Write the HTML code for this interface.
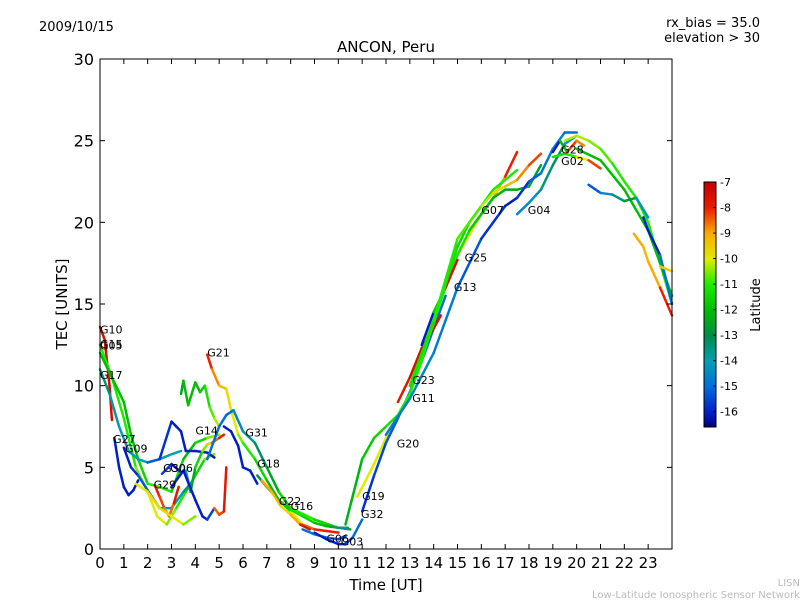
<!DOCTYPE html>
<html><head><meta charset="utf-8"><style>
body{margin:0;background:#fff;}
svg{font-family:"DejaVu Sans","Liberation Sans",sans-serif;}
</style></head><body>
<svg id="chart" width="800" height="600" xmlns="http://www.w3.org/2000/svg">
<rect width="800" height="600" fill="#fff"/>
<text x="39" y="31" font-size="13">2009/10/15</text>
<text x="760" y="27" font-size="13" text-anchor="end">rx_bias = 35.0</text>
<text x="760" y="42" font-size="13" text-anchor="end">elevation &gt; 30</text>
<text x="386" y="52" font-size="15" text-anchor="middle">ANCON, Peru</text>
<text x="386" y="590" font-size="15" text-anchor="middle">Time [UT]</text>
<text x="67" y="304" font-size="15" text-anchor="middle" transform="rotate(-90 67 304)">TEC [UNITS]</text>
<text x="800" y="586" font-size="10" fill="#bbb" text-anchor="end">LISN</text>
<text x="800" y="598" font-size="10" fill="#bbb" text-anchor="end">Low-Latitude Ionospheric Sensor Network</text>
<g id="plot"></g>
<g id="axes"></g>
<g id="cbar"></g>
</svg>
<script>
const trackNames = ["G10","G15","G05","G17","G27","G09","G29","G30","G06","G14","G21","G31","G18","G22","G16","G06b","G03","G19","G32","G20","G11","G23","G25","G13","G07","G04","G28","G02","D1","D2","D3","D4","D5","D6","M1","M2","M3"];
const trackTimes = [
 [0,0.2,0.4,0.5],
 [0,0.5,1,1.5,2,2.4,2.8,3.2,3.6,4,4.4,4.8],
 [0,0.5,1,1.3,1.6,2,2.5,3,3.5,4,4.5,5],
 [0,0.4,0.8,1.2,1.6,2,2.5,3,3.4],
 [0.6,0.8,1,1.2,1.4,1.6],
 [1,1.3,1.6,2,2.5,3,3.5,3.8],
 [2.3,2.5,2.7,2.9,3.1,3.3],
 [2,2.5,3,3.2,3.4,3.6,4,4.5,4.8],
 [2.6,3,3.4,3.6,3.8,4,4.3,4.5,4.7,5,5.2],
 [3.4,3.5,3.7,4,4.2,4.4,4.6,4.8,5],
 [4.5,4.7,5,5.3,5.5,5.8,6,6.5,7,7.5,8,8.5,9,9.5,10],
 [4.5,5,5.3,5.6,6,6.5,7,7.5,8,9,10,10.5],
 [5.2,5.5,5.8,6,6.3,6.6],
 [6.6,7,7.5,8,8.5,9,9.5,10,10.4],
 [6.8,7.2,7.6,8,8.4,8.8],
 [8.5,9,9.5,10,10.3],
 [9,9.5,10,10.3,10.6,11],
 [10.8,11.5,12,13,13.5,14,14.5,15,16,16.5,17,17.5],
 [11,11.5,12,12.5,13,13.5,14,14.5],
 [10.3,11,11.5,12,12.5,13,13.5,14,15,15.5,16,16.5,17,17.5,18,18.5],
 [12,13,14,15,16,17,17.5,18,18.5,19,19.5,20],
 [12.5,13,13.5,14,14.3],
 [13.5,14,14.5,15],
 [13,13.5,14,14.5,15,15.5,16,16.5,17,17.5],
 [13,14,14.5,15,16,16.5,17,17.5,18,18.5],
 [17.5,18,18.5,19,19.5,20],
 [19,19.3,19.6,20,20.3],
 [19,19.5,20,20.5,21],
 [19.5,20,20.5,21,21.5,22,22.5,23,23.5,24],
 [20,21,22,23,23.5,24],
 [20.5,21,21.5,22,22.5,23],
 [22.8,23,23.5,24],
 [22.4,22.8,23,23.5,24],
 [23.5,24],
 [3,3.5,4,4.3,4.5,4.8],
 [4.8,5,5.2,5.3],
 [1.5,2,2.5,3,3.5,4]
];
const trackTec = [
 [13.6,12.8,10,7.9],
 [12.5,10.5,8,5,3.5,2,1.5,2.5,3.5,4.5,5.5,5.8],
 [12,10.5,9,7,5.5,4,3.8,3.5,5.5,6.5,6.8,7],
 [11,9.5,7.5,6,5.5,5.3,5.5,5.8,6.0],
 [6.8,5,3.8,3.3,3.6,4.2],
 [6.2,5,4.5,3.6,2.5,2.5,3.5,4],
 [3.9,3.2,2.5,2,2.8,3.8],
 [5.3,5.5,7.8,7.5,7.2,6.0,6.0,5.9,5.6],
 [4.6,5.2,4.7,4.8,3.5,5,6,6.4,6.5,6.8,7],
 [9.5,10.3,8.8,10.2,9.6,10,8.7,8,7.5],
 [11.9,11.0,10.0,9.8,8.5,7.0,6.5,5.5,4.2,3.0,2.3,1.5,1.2,1.1,1.0],
 [5.5,7.5,8.2,8.5,7.2,6.5,5,3.5,2.5,1.8,1.3,1.2],
 [7.5,7.2,6.3,5.0,4.8,4.0],
 [4.5,3.8,3,2.4,2,1.6,1.4,1.3,1.3],
 [4.2,3.5,2.6,2.1,1.5,1.2],
 [1.2,0.9,0.7,0.6,0.8],
 [1.0,0.6,0.3,0.3,0.7,1.8],
 [3.2,5.2,6.8,9.5,12,14.5,16,18,20.5,21.5,22.8,24.3],
 [2.3,4.5,6.5,8,9.6,11.5,13.5,15.5],
 [1.5,5.5,6.8,7.5,8.2,9.5,11.5,14,18,19.5,20.5,21.5,22,22.0,22.2,23.5],
 [7,9.2,12,16,19,21,21.5,22.5,23,24.5,25.5,25.5],
 [9,10.5,12.3,13.5,14.3],
 [12.5,14.5,16,17.7],
 [10,11.8,13.8,16.2,18.5,20,21,22,22.6,23.2],
 [10,14,16.5,19,21,21.8,22.2,22.6,23.5,24.2],
 [20.5,21.2,22,23.5,24.8,25.3],
 [24.3,25,24.3,25,24.7],
 [24,24.2,24.0,23.8,23.3],
 [25,25.3,25,24.5,23.6,22.5,21.5,20,17.5,15],
 [24.5,23.8,22,19.5,17.5,15.5],
 [22.3,21.8,21.7,21.3,21.5,20.3],
 [20.3,19.5,18,15],
 [19.3,18.5,17.6,16,14.3],
 [17.3,17],
 [3.8,4.8,3.0,2.0,1.8,2.5],
 [2.5,2.1,2.3,5],
 [4,3.5,2.5,2,1.5,2]
];
const trackLat = [
 [-7.5,-7.5,-7.5,-7.5],
 [-11,-11,-11,-11,-10,-10,-10,-11,-11,-12,-11,-10],
 [-12,-12,-12,-12,-12,-11,-11,-11,-12,-12,-11,-10],
 [-13.5,-13.5,-14,-14,-14,-14,-14,-14,-14],
 [-16,-16,-16,-16,-16,-16],
 [-16,-16,-15.5,-15,-14.5,-14,-14,-13],
 [-8,-8,-8.5,-9,-8,-7.5],
 [-15,-15.5,-16,-16,-16,-16,-16,-16,-16],
 [-15,-16,-16,-15,-13,-12,-11,-10,-9,-8,-8],
 [-13,-12,-12,-12,-12,-11.5,-11,-10.5,-10],
 [-7.5,-8.5,-9,-9.5,-10,-10,-11,-11,-12,-12,-11,-9,-8,-8,-8],
 [-15,-15,-15,-15,-14,-13.5,-13,-12,-11,-11,-12,-13],
 [-16,-16,-16,-16,-16,-16],
 [-13,-12.5,-12,-11.5,-11,-12,-12,-13,-14],
 [-9,-9,-9.5,-10,-8,-7.5],
 [-15,-15,-15,-15,-16],
 [-16,-16,-16,-16,-15,-15],
 [-10,-10,-10,-10,-10,-10,-10,-10,-10,-9.5,-8.5,-7.5],
 [-16,-15.5,-15.5,-15,-15,-15,-15,-15],
 [-12.5,-12,-11.5,-11.5,-11,-11,-11,-11,-11,-11.5,-12,-12,-12.5,-12.5,-12.5,-12.5],
 [-15,-14.5,-14.5,-15,-15.5,-16,-16,-15.5,-15,-14.5,-14.5,-15.5],
 [-8,-7.5,-7.5,-7.5,-7.5],
 [-16,-16,-7.5,-7.5],
 [-11,-11,-11,-11,-11.5,-11.5,-11.5,-11,-11,-11],
 [-11.5,-11,-11,-11,-10.5,-10,-9.5,-9,-8.5,-8],
 [-14.5,-14.5,-14,-13,-13.5,-14.5],
 [-16,-16,-8,-8.5,-9],
 [-11.5,-11,-11,-9,-7.5],
 [-10.5,-10,-10.5,-10.5,-11,-11,-11,-11,-11,-11],
 [-12,-12,-12,-12,-12,-12],
 [-15.5,-15,-14,-13,-12.5,-16],
 [-16,-16,-16,-14],
 [-9,-9,-9.5,-8.5,-7.5],
 [-9.5,-9.5],
 [-16,-16,-16,-16,-16,-15],
 [-8.5,-8.5,-8,-7.5],
 [-10,-10,-9.5,-10,-10,-11]
];
const labelNames = ["G10","G15","G05","G17","G27","G09","G29","G30","G06","G14","G21","G31","G18","G22","G16","G06","G03","G19","G32","G20","G11","G23","G25","G13","G07","G04","G28","G02"];
const labelTimes = [0,0,0,0,0.55,1.05,2.25,2.65,2.95,4.0,4.5,6.1,6.6,7.5,8.0,9.5,10.1,11.0,10.95,12.45,13.1,13.1,15.3,14.85,16.0,17.95,19.35,19.35];
const labelTecs = [13.2,12.3,12.2,10.4,6.5,5.9,3.7,4.7,4.7,7.0,11.8,6.9,5.0,2.7,2.4,0.4,0.2,3.0,1.9,6.2,9.0,10.1,17.6,15.8,20.5,20.5,24.2,23.5];

const X0=100,X1=672,Y0=549,Y1=59;
const xs=t=>X0+(t/24)*(X1-X0);
const ys=v=>Y0-(v/30)*(Y0-Y1);
const vmin=-16.6,vmax=-7;
const cmapLat=[-16.6,-16,-15,-14,-13,-12,-11,-10,-9,-8,-7];
const cmapRGB=[[0,0,130],[0,30,200],[0,110,220],[0,160,180],[0,140,70],[0,190,0],[30,235,0],[225,235,0],[250,170,0],[235,30,0],[195,0,0]];
function jet(v){
  v=Math.max(vmin,Math.min(vmax,v));
  for(let i=0;i<cmapLat.length-1;i++){
    if(v<=cmapLat[i+1]){const f=(v-cmapLat[i])/(cmapLat[i+1]-cmapLat[i]);
      const a=cmapRGB[i],b=cmapRGB[i+1];
      return `rgb(${Math.round(a[0]+(b[0]-a[0])*f)},${Math.round(a[1]+(b[1]-a[1])*f)},${Math.round(a[2]+(b[2]-a[2])*f)})`;}
  }
  return 'rgb(195,0,0)';
}
const NS="http://www.w3.org/2000/svg";
const plot=document.getElementById('plot');
trackTimes.forEach((ts,i)=>{
  const g=document.createElementNS(NS,'g');
  
  
  for(let k=0;k<ts.length-1;k++){
    const l=document.createElementNS(NS,'line');
    l.setAttribute('x1',xs(ts[k]));l.setAttribute('y1',ys(trackTec[i][k]));
    l.setAttribute('x2',xs(ts[k+1]));l.setAttribute('y2',ys(trackTec[i][k+1]));
    l.setAttribute('stroke',jet((trackLat[i][k]+trackLat[i][k+1])/2));
    l.setAttribute('stroke-width','2.5');l.setAttribute('stroke-linecap','round');
    g.appendChild(l);
  }
  plot.appendChild(g);
});
labelNames.forEach((n,i)=>{
  const t=document.createElementNS(NS,'text');
  
  
  t.setAttribute('x',xs(labelTimes[i]));t.setAttribute('y',ys(labelTecs[i]));
  t.setAttribute('font-size','11');t.textContent=n;
  plot.appendChild(t);
});
const axes=document.getElementById('axes');
let h=`<rect x="${X0}" y="${Y1}" width="${X1-X0}" height="${Y0-Y1}" fill="none" stroke="#000" stroke-width="1"/>`;
for(let v=0;v<=30;v+=5){const y=ys(v);
 h+=`<line x1="${X0}" x2="${X0+5}" y1="${y}" y2="${y}" stroke="#000"/><line x1="${X1}" x2="${X1-5}" y1="${y}" y2="${y}" stroke="#000"/>`;
 h+=`<text x="${X0-6}" y="${y+6}" font-size="16" text-anchor="end">${v}</text>`;}
for(let t=0;t<=23;t++){const x=xs(t);
 h+=`<line x1="${x}" x2="${x}" y1="${Y0}" y2="${Y0-5}" stroke="#000"/><line x1="${x}" x2="${x}" y1="${Y1}" y2="${Y1+5}" stroke="#000"/>`;
 h+=`<text x="${x}" y="${Y0+19}" font-size="15" text-anchor="middle">${t}</text>`;}
axes.innerHTML=h;
const cb=document.getElementById('cbar');
const CY0=182,CY1=427,CX=704,CW=12;
const cy=v=>CY0+(vmax-v)/(vmax-vmin)*(CY1-CY0);
let c='';
for(let y=CY0;y<CY1;y++){const v=vmax-(y-CY0)/(CY1-CY0)*(vmax-vmin);c+=`<rect x="${CX}" y="${y}" width="${CW}" height="1.2" fill="${jet(v)}"/>`;}
c+=`<rect x="${CX}" y="${CY0}" width="${CW}" height="${CY1-CY0}" fill="none" stroke="#000"/>`;
for(let v=-7;v>=-16;v--){const y=cy(v);c+=`<line x1="${CX+CW}" x2="${CX+CW-3}" y1="${y}" y2="${y}" stroke="#000"/><text x="${CX+CW+4}" y="${y+4}" font-size="11">${v}</text>`;}
c+=`<text x="760" y="305" font-size="13" text-anchor="middle" transform="rotate(-90 760 305)">Latitude</text>`;
cb.innerHTML=c;
</script>
</body></html>
